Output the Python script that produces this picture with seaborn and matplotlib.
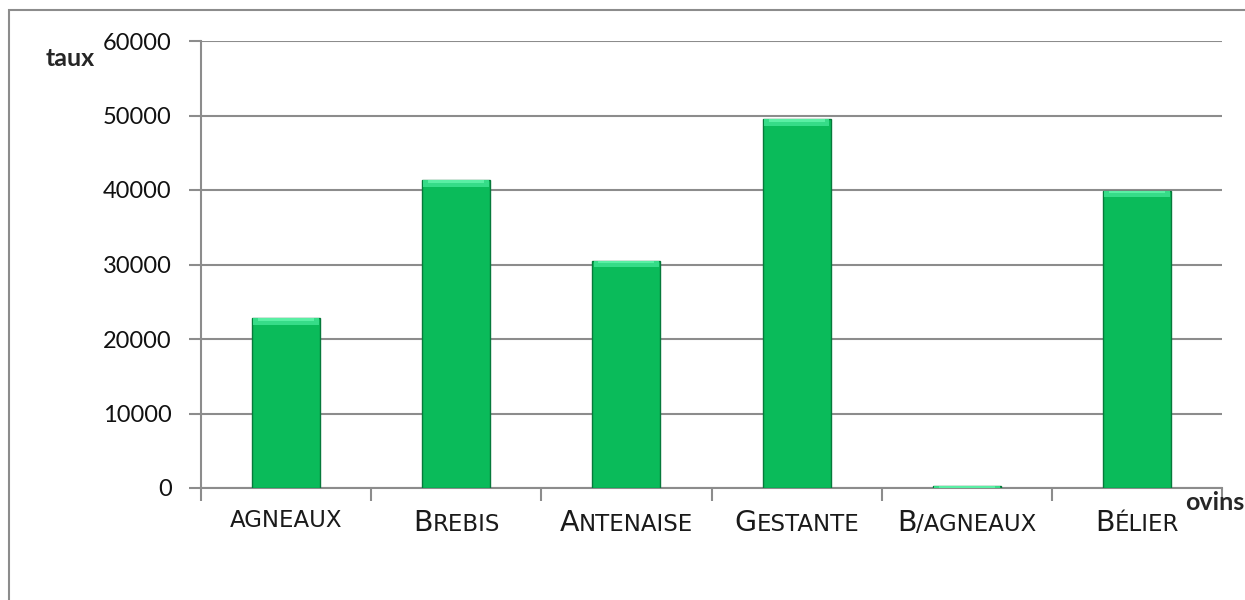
import matplotlib
matplotlib.use("Agg")
import matplotlib.pyplot as plt
import seaborn as sns
import pandas as pd
import numpy as np
from matplotlib.patches import Rectangle
from matplotlib.offsetbox import TextArea, HPacker, AnnotationBbox

categories = ["agneaux", "Brebis", "Antenaise", "Gestante", "B/agneaux", "Bélier"]
values = [22800, 41300, 30500, 49500, 300, 39900]
yticks = [0, 10000, 20000, 30000, 40000, 50000, 60000]

sns.set_theme(style="white")
plt.rcParams['font.family'] = ['Lato', 'DejaVu Sans']

fig = plt.figure(figsize=(12.45, 6), dpi=100)
ax = fig.add_axes([201/1245, 1-488/600, (1222-201)/1245, (488-41)/600])

df = pd.DataFrame({"cat": categories, "val": values})
GRID = "#8c8c8c"
ax.set_axisbelow(True)
for t in yticks:
    ax.axhline(t, color=GRID, lw=1.5, zorder=0)

sns.barplot(data=df, x="cat", y="val", order=categories, width=0.4,
            color="#0ABB5A", edgecolor="#067A3B", linewidth=1.0,
            saturation=1, ax=ax, zorder=3)

# bevel highlights at the top of each bar
vals = np.array(values, dtype=float)
bev = np.minimum(vals, 900)
ax.bar(np.arange(len(categories)), bev, bottom=vals - bev, width=0.385,
       color="#36DC88", linewidth=0, zorder=4)
ax.bar(np.arange(len(categories)), np.minimum(vals, 350), bottom=vals - np.minimum(vals, 350),
       width=0.33, color="#5AEFA4", linewidth=0, zorder=5)

ax.set_ylim(0, 60000)
ax.set_xlim(-0.5, len(categories) - 0.5)
ax.set_yticks(yticks)
ax.set_yticklabels([str(t) for t in yticks], fontsize=17, color="#111111")
ax.tick_params(axis="y", direction="out", length=9, width=1.5, color=GRID, pad=12, left=True)

# x ticks at category boundaries, labels drawn as small caps
ax.set_xticks(np.arange(-0.5, len(categories)), minor=False)
ax.set_xticklabels([])
ax.tick_params(axis="x", direction="out", length=9, width=1.5, color=GRID, bottom=True)
ax.set_xlabel("")
ax.set_ylabel("")

for s in ["top", "right"]:
    ax.spines[s].set_visible(False)
for s in ["left", "bottom"]:
    ax.spines[s].set_color(GRID)
    ax.spines[s].set_linewidth(1.5)


def smallcaps(label, big=20.5, small=16.5):
    runs = []
    for ch in label:
        size = big if ch.isupper() else small
        if runs and runs[-1][1] == size:
            runs[-1][0] += ch.upper()
        else:
            runs.append([ch.upper(), size])
    areas = [TextArea(txt, textprops=dict(fontsize=sz, family=["DejaVu Sans"],
                                          color="#1a1a1a", fontweight="normal"))
             for txt, sz in runs]
    return HPacker(children=areas, align="baseline", pad=0, sep=0)


for i, lab in enumerate(categories):
    box = smallcaps(lab)
    ab = AnnotationBbox(box, (i, 0), xybox=(0, -15), xycoords=("data", "axes fraction"),
                        boxcoords="offset points", box_alignment=(0.5, 1.0),
                        frameon=False, pad=0, annotation_clip=False)
    ax.add_artist(ab)

fig.text(70/1245, 1-59/600, "taux", fontsize=18, fontweight="bold", ha="center", va="center")
fig.text(1185/1245, 1-502/600, "ovins", fontsize=18, fontweight="bold", ha="left", va="center")

# outer chart frame
fig.patches.append(Rectangle((9/1245, -0.2), 1.2, 1.2 - 10/600, transform=fig.transFigure,
                             fill=False, edgecolor="#8c8c8c", lw=1.5, clip_on=False))

fig.savefig("out.png", dpi=100)
